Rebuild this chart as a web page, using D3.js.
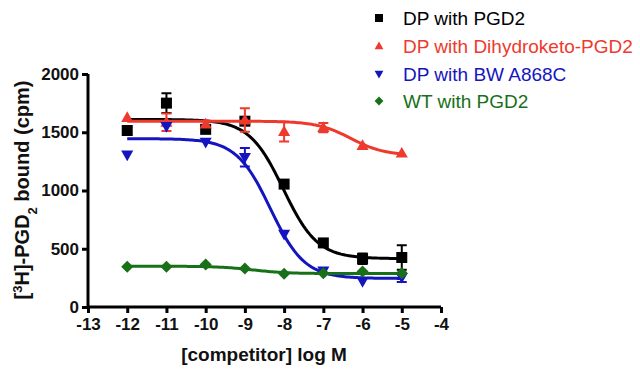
<!doctype html>
<html lang="en">
<head>
<meta charset="utf-8">
<title>Competition binding</title>
<script src="https://d3js.org/d3.v7.min.js"></script>
<style>
  body { margin: 0; background: #fff; }
  svg { font-family: "Liberation Sans", Arial, sans-serif; }
</style>
</head>
<body>
<div id="chart"></div>
<script>
// log concentrations
const logConc = [-12, -11, -10, -9, -8, -7, -6, -5];

const seriesNames = ["DP with PGD2", "DP with Dihydroketo-PGD2", "DP with BW A868C", "WT with PGD2"];
const seriesColors = ["#000000", "#ee3a2c", "#1515c0", "#187018"];
const seriesSymbols = ["square", "triangle", "tri-down", "diamond"];

// mean values (cpm)
const dpPGD2 = [1515, 1750, 1525, 1595, 1055, 550, 415, 425];
const dpDihydro = [1625, 1585, 1570, 1605, 1505, 1540, 1385, 1320];
const dpBW = [1305, 1550, 1415, 1285, 625, 310, 220, 255];
const wtPGD2 = [345, 345, 365, 330, 285, 290, 305, 290];

// error (SEM)
const dpPGD2Err = [35, 85, 0, 0, 0, 0, 45, 105];
const dpDihydroErr = [0, 75, 0, 100, 85, 40, 0, 0];
const dpBWErr = [0, 0, 0, 80, 0, 0, 0, 40];
const wtPGD2Err = [0, 0, 0, 0, 0, 0, 0, 0];

// one-site fit parameters: [top, bottom, logIC50]
const fitTop = [1610, 1595, 1445, 350];
const fitBottom = [415, 1300, 245, 287];
const fitLogIC50 = [-8.02, -6.3, -8.35, -8.8];

const xTicks = [-13, -12, -11, -10, -9, -8, -7, -6, -5, -4];
const yTicks = [0, 500, 1000, 1500, 2000];

const values = [dpPGD2, dpDihydro, dpBW, wtPGD2];
const errors = [dpPGD2Err, dpDihydroErr, dpBWErr, wtPGD2Err];

const width = 640, height = 377;
const x = d3.scaleLinear([-13, -4], [88, 441]);
const y = d3.scaleLinear([0, 2000], [307, 74]);

const svg = d3.select("#chart").append("svg")
    .attr("width", width)
    .attr("height", height)
    .attr("viewBox", [0, 0, width, height]);

function symbolPath(kind, s) {
  if (kind === "square") return `M${-s},${-s}h${2*s}v${2*s}h${-2*s}Z`;
  if (kind === "triangle") return `M0,${-s*1.15}L${s*1.1},${s*0.8}L${-s*1.1},${s*0.8}Z`;
  if (kind === "tri-down") return `M0,${s*1.15}L${s*1.1},${-s*0.8}L${-s*1.1},${-s*0.8}Z`;
  return `M0,${-s*1.1}L${s*1.1},0L0,${s*1.1}L${-s*1.1},0Z`;
}

// axes
svg.append("g")
    .attr("transform", "translate(0,307)")
    .call(d3.axisBottom(x).tickValues(xTicks).tickSize(6).tickPadding(5))
    .call(g => g.select(".domain").attr("stroke-width", 3).attr("d", "M88,0H441"))
    .call(g => g.selectAll(".tick line").attr("stroke-width", 3))
    .call(g => g.selectAll(".tick text")
        .attr("font-size", 17).attr("font-weight", "bold").attr("fill", "#111")
        .attr("font-family", "Liberation Sans, Arial, sans-serif")
        .text(d => "-" + Math.abs(d)));

svg.append("g")
    .attr("transform", "translate(88,0)")
    .call(d3.axisLeft(y).tickValues(yTicks).tickSize(6).tickPadding(3).tickFormat(d3.format("d")))
    .call(g => g.select(".domain").attr("stroke-width", 3).attr("d", "M0,307V74"))
    .call(g => g.selectAll(".tick line").attr("stroke-width", 3))
    .call(g => g.selectAll(".tick text")
        .attr("font-size", 17).attr("font-weight", "bold").attr("fill", "#111")
        .attr("font-family", "Liberation Sans, Arial, sans-serif"));

// axis titles
svg.append("text")
    .attr("x", 264).attr("y", 361)
    .attr("text-anchor", "middle")
    .attr("font-size", 19).attr("font-weight", "bold").attr("fill", "#111")
    .text("[competitor] log M");

const yt = svg.append("text")
    .attr("transform", "translate(29,190) rotate(-90)")
    .attr("text-anchor", "middle")
    .attr("font-size", 20).attr("font-weight", "bold").attr("fill", "#111");
yt.append("tspan").text("[");
yt.append("tspan").attr("baseline-shift", "super").attr("font-size", 13).text("3");
yt.append("tspan").text("H]-PGD");
yt.append("tspan").attr("baseline-shift", "sub").attr("font-size", 13).text("2");
yt.append("tspan").text(" bound (cpm)");

// fitted curves
const xs = d3.range(-12, -4.99, 0.05);
const line = d3.line().x(d => x(d[0])).y(d => y(d[1])).curve(d3.curveLinear);

values.forEach((vals, k) => {
  const c = seriesColors[k];
  const pts = xs.map(v => [v, fitBottom[k] + (fitTop[k] - fitBottom[k]) / (1 + Math.pow(10, v - fitLogIC50[k]))]);
  const g = svg.append("g");
  g.append("path")
      .attr("d", line(pts))
      .attr("fill", "none")
      .attr("stroke", c)
      .attr("stroke-width", 3);

  // error bars
  g.selectAll(".err")
    .data(logConc.map((v, i) => [v, vals[i], errors[k][i]]).filter(d => d[2] > 0))
    .join("path")
      .attr("d", d => {
        const cx = x(d[0]), t = y(d[1] + d[2]), b = y(d[1] - d[2]);
        return `M${cx},${t}V${b}M${cx-5},${t}H${cx+5}M${cx-5},${b}H${cx+5}`;
      })
      .attr("stroke", c)
      .attr("stroke-width", 2)
      .attr("fill", "none");

  g.selectAll(".pt")
    .data(logConc.map((v, i) => [v, vals[i]]))
    .join("path")
      .attr("transform", d => `translate(${x(d[0])},${y(d[1])})`)
      .attr("d", symbolPath(seriesSymbols[k], 5.5))
      .attr("fill", c);
});

// legend
const legend = svg.append("g");
const rowY = [18, 46, 74, 101];
seriesNames.forEach((name, k) => {
  legend.append("path")
      .attr("transform", `translate(379,${rowY[k]})`)
      .attr("d", symbolPath(seriesSymbols[k], 4))
      .attr("fill", seriesColors[k]);
  legend.append("text")
      .attr("x", 403).attr("y", rowY[k])
      .attr("dy", "0.36em")
      .attr("font-size", 19)
      .attr("fill", seriesColors[k])
      .text(name);
});
</script>
</body>
</html>
